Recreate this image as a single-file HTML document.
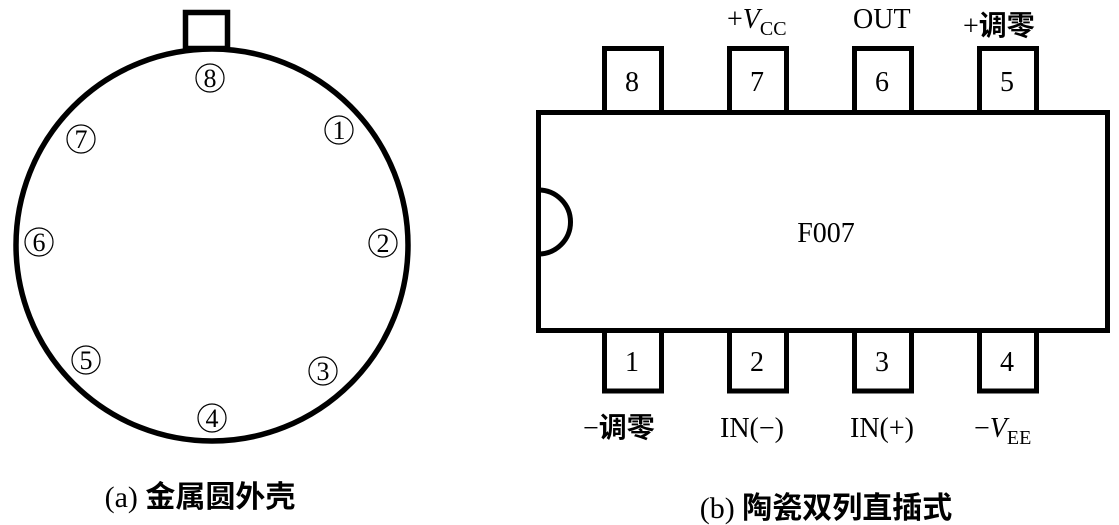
<!DOCTYPE html>
<html><head><meta charset="utf-8"><style>
html,body{margin:0;padding:0;background:#fff;}
svg{display:block;}
text{font-family:"Liberation Serif","Noto Serif CJK SC",serif;fill:#000;}
.cj{font-family:"Noto Sans CJK SC",sans-serif;font-weight:bold;}
</style></head><body>
<svg width="1119" height="525" viewBox="0 0 1119 525" xmlns="http://www.w3.org/2000/svg">
<g fill="none" stroke="#000" stroke-width="5.5">
<rect x="185.5" y="12.5" width="42" height="36" fill="#fff"/>
<circle cx="212" cy="245" r="196"/>
</g>
<g fill="none" stroke="#000" stroke-width="1.2">
<circle cx="210" cy="78" r="14"/>
<circle cx="339" cy="130" r="14"/>
<circle cx="81" cy="139" r="14"/>
<circle cx="39" cy="242" r="14"/>
<circle cx="383" cy="243" r="14"/>
<circle cx="86" cy="360" r="14"/>
<circle cx="323" cy="371" r="14"/>
<circle cx="212" cy="418" r="14"/>
</g>
<g font-size="26" text-anchor="middle">
<text x="210" y="87">8</text>
<text x="339" y="139">1</text>
<text x="81" y="148">7</text>
<text x="39" y="251">6</text>
<text x="383" y="252">2</text>
<text x="86" y="369">5</text>
<text x="323" y="380">3</text>
<text x="212" y="427">4</text>
</g>
<text x="200" y="507" font-size="30" text-anchor="middle">(a) <tspan class="cj">金属圆外壳</tspan></text>

<g fill="#fff" stroke="#000" stroke-width="5">
<rect x="604.5" y="48.5" width="57" height="64"/>
<rect x="729.5" y="48.5" width="57" height="64"/>
<rect x="854.5" y="48.5" width="57" height="64"/>
<rect x="979.5" y="48.5" width="57" height="64"/>
<rect x="604.5" y="330" width="57" height="61"/>
<rect x="729.5" y="330" width="57" height="61"/>
<rect x="854.5" y="330" width="57" height="61"/>
<rect x="979.5" y="330" width="57" height="61"/>
<rect x="538.5" y="112.5" width="569" height="218"/>
<path d="M538.5 190 A32 32 0 0 1 538.5 254" fill="none"/>
</g>
<g font-size="28" text-anchor="middle">
<text x="632" y="91">8</text>
<text x="757" y="91">7</text>
<text x="882" y="91">6</text>
<text x="1007" y="91">5</text>
<text x="632" y="371">1</text>
<text x="757" y="371">2</text>
<text x="882" y="371">3</text>
<text x="1007" y="371">4</text>
<text x="826" y="242">F007</text>
</g>
<g font-size="28">
<text x="727" y="28">+<tspan font-style="italic">V</tspan><tspan font-size="20" dy="7">CC</tspan></text>
<text x="853" y="28">OUT</text>
<text x="963" y="35">+<tspan class="cj">调零</tspan></text>
<text x="583" y="437">−<tspan class="cj">调零</tspan></text>
<text x="720" y="437">IN(−)</text>
<text x="850" y="437">IN(+)</text>
<text x="974" y="437">−<tspan font-style="italic">V</tspan><tspan font-size="20" dy="7">EE</tspan></text>
</g>
<text x="826" y="518" font-size="30" text-anchor="middle">(b) <tspan class="cj">陶瓷双列直插式</tspan></text>
</svg>
</body></html>
